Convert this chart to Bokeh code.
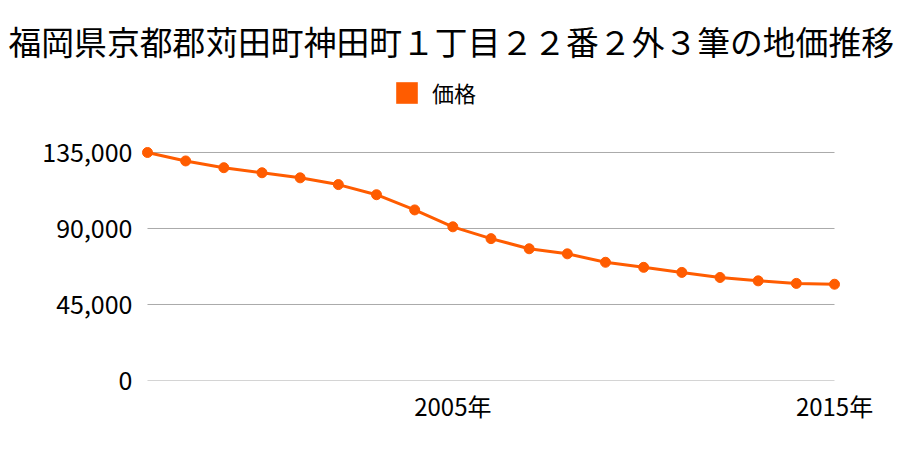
from bokeh.plotting import figure
from bokeh.models import Range1d, FixedTicker, Legend, LegendItem, NumeralTickFormatter, Title
from bokeh.embed import file_html
from bokeh.resources import INLINE

title_text = "福岡県京都郡苅田町神田町１丁目２２番２外３筆の地価推移"
series_name = "価格"
years = list(range(1997, 2016))
prices = [135000, 130000, 126000, 123000, 120000, 116000, 110000, 101000, 91000,
          84000, 78000, 75000, 70000, 67000, 64000, 61000, 59000, 57500, 57000]
y_ticks = [0, 45000, 90000, 135000]
x_ticks = [2005, 2015]
x_tick_labels = {2005: "2005年", 2015: "2015年"}

FONT = "Noto Sans CJK JP"
COLOR = "#ff5c00"

p = figure(width=900, height=450, output_backend="svg", toolbar_location=None,
           title_location=None,
           x_range=Range1d(years[0] - 0.288, years[-1] + 0.314),
           y_range=Range1d(0, 180590),
           min_border_left=136, min_border_right=54, min_border_top=75, min_border_bottom=70)

p.outline_line_color = None
p.xgrid.visible = False
p.ygrid.visible = False

# horizontal grid lines spanning the data
p.segment(x0=years[0], x1=years[-1], y0=y_ticks, y1=y_ticks, line_color="#aaaaaa", line_width=1)

line_r = p.line(years, prices, line_color=COLOR, line_width=3)
p.scatter(years, prices, size=10, fill_color=COLOR, line_color=COLOR)

# hidden square-style renderer used only for the legend swatch
leg_r = p.quad(left=years[:1], right=years[:1], top=prices[:1], bottom=prices[:1],
               fill_color=COLOR, line_color=None, visible=False)
legend = Legend(items=[LegendItem(label=series_name, renderers=[leg_r])],
                orientation="horizontal", location=(257, 272),
                glyph_width=27, glyph_height=27, label_text_font=FONT,
                label_text_font_size="22px", label_standoff=12, label_text_color="#000000",
                border_line_alpha=0, background_fill_alpha=0, padding=0, margin=0)
p.add_layout(legend, "center")

p.add_layout(Title(text=title_text, align="left", offset=-128, standoff=24,
                   text_font=FONT, text_font_size="32.8px", text_font_style="normal",
                   text_color="#000000"), "above")

p.xaxis.ticker = FixedTicker(ticks=x_ticks)
p.xaxis.major_label_overrides = x_tick_labels
p.yaxis.ticker = FixedTicker(ticks=y_ticks)
p.yaxis.formatter = NumeralTickFormatter(format="0,0")
for ax in (p.xaxis, p.yaxis):
    ax.axis_line_color = None
    ax.major_tick_line_color = None
    ax.minor_tick_line_color = None
    ax.major_tick_out = 0
    ax.major_tick_in = 0
    ax.major_label_text_font = FONT
    ax.major_label_text_color = "#000000"
p.xaxis.major_label_text_font_size = "24px"
p.yaxis.major_label_text_font_size = "25px"
p.xaxis.major_label_standoff = 7
p.yaxis.major_label_standoff = 4

open("out.html", "w").write(file_html(p, INLINE))
